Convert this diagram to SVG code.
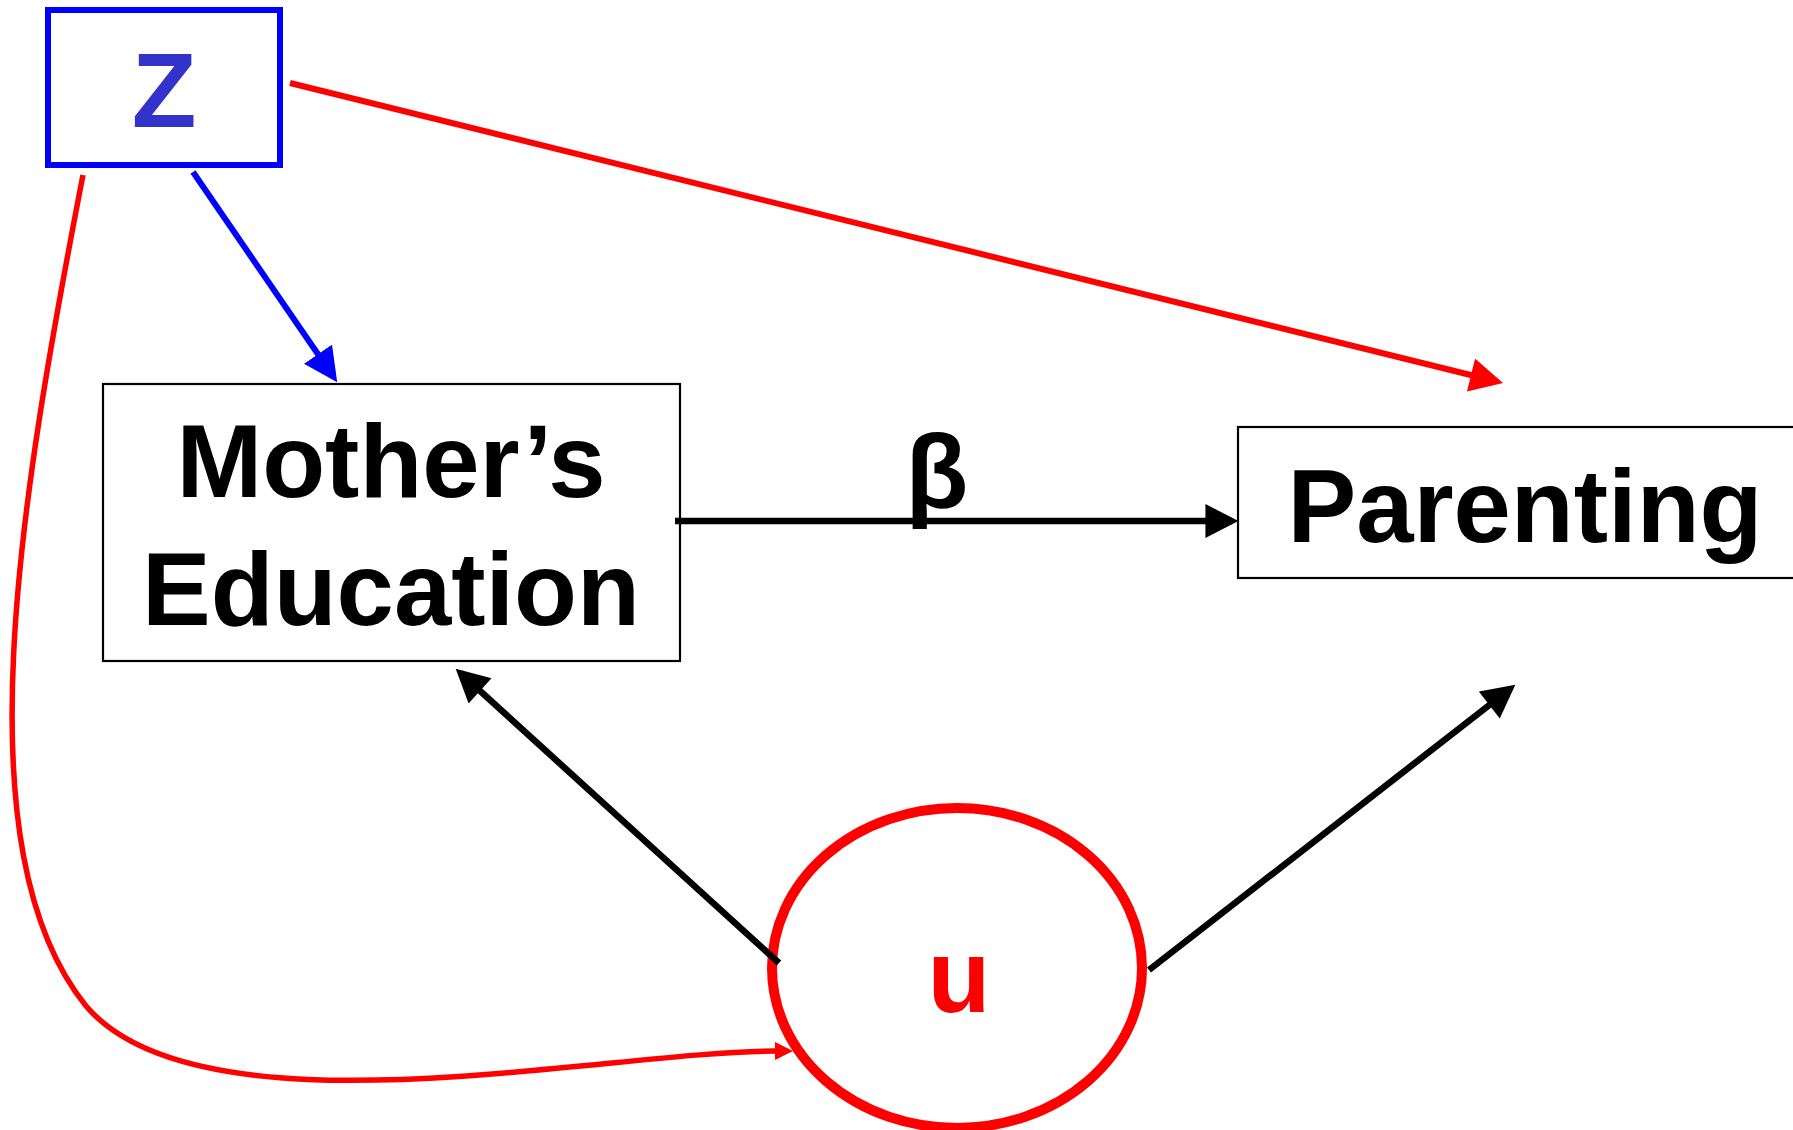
<svg xmlns="http://www.w3.org/2000/svg" width="1793" height="1130" viewBox="0 0 1793 1130">
<style>
text{font-family:"Liberation Sans",Arial,sans-serif;font-weight:bold;text-anchor:middle}
.box{fill:none;stroke:#000;stroke-width:2.2}
.lbl{font-size:103px;fill:#000}
</style>
<defs>
<marker id="ar" markerUnits="userSpaceOnUse" markerWidth="34" markerHeight="34" refX="26" refY="16.5" orient="auto" viewBox="0 0 32 33"><path d="M0,0 L32,16.5 L0,33 z" fill="#f00"/></marker>
<marker id="ab" markerUnits="userSpaceOnUse" markerWidth="34" markerHeight="34" refX="26" refY="16" orient="auto" viewBox="0 0 32 32"><path d="M0,0 L32,16 L0,32 z" fill="#00f"/></marker>
<marker id="ak" markerUnits="userSpaceOnUse" markerWidth="34" markerHeight="34" refX="25" refY="16" orient="auto" viewBox="0 0 31 32"><path d="M0,0 L31,16 L0,32 z" fill="#000"/></marker>
<marker id="ars" markerUnits="userSpaceOnUse" markerWidth="18" markerHeight="18" refX="0" refY="8.5" orient="auto" viewBox="0 0 17 17"><path d="M0,0 L17,8.5 L0,17 z" fill="#f00"/></marker>
</defs>
<g id="node-z">
<rect x="48" y="10" width="232" height="155" fill="none" stroke="#00f" stroke-width="6"/>
<text x="164" y="127" font-size="106" fill="#3333cc">Z</text>
</g>
<g id="node-mothers-education">
<rect class="box" x="103" y="384" width="577" height="277"/>
<text class="lbl" x="391" y="497">Mother’s</text>
<text class="lbl" x="391" y="625">Education</text>
</g>
<g id="node-parenting">
<rect class="box" x="1238" y="427" width="570" height="151"/>
<text class="lbl" x="1525" y="542">Parenting</text>
</g>
<g id="label-beta">
<text class="lbl" x="937" y="507">β</text>
</g>
<g id="node-u">
<ellipse cx="957" cy="968" rx="185" ry="160" fill="none" stroke="#f00" stroke-width="10"/>
<text x="959" y="1012" font-size="103" fill="#f00">u</text>
</g>
<g id="connectors" fill="none">
<line x1="290" y1="83" x2="1497" y2="381.5" stroke="#f00" stroke-width="6" marker-end="url(#ar)"/>
<line x1="193" y1="172" x2="333.6" y2="377" stroke="#00f" stroke-width="6" marker-end="url(#ab)"/>
<line x1="675" y1="521" x2="1232" y2="521" stroke="#000" stroke-width="6.5" marker-end="url(#ak)"/>
<line x1="779" y1="963" x2="460.4" y2="673" stroke="#000" stroke-width="6.5" marker-end="url(#ak)"/>
<line x1="1149" y1="970" x2="1510.3" y2="688.7" stroke="#000" stroke-width="6.5" marker-end="url(#ak)"/>
<path d="M83,175 C20,500 -40,850 86,1006 C200,1140 600,1052 775,1051" stroke="#f00" stroke-width="5.5" marker-end="url(#ars)"/>
</g>
</svg>
